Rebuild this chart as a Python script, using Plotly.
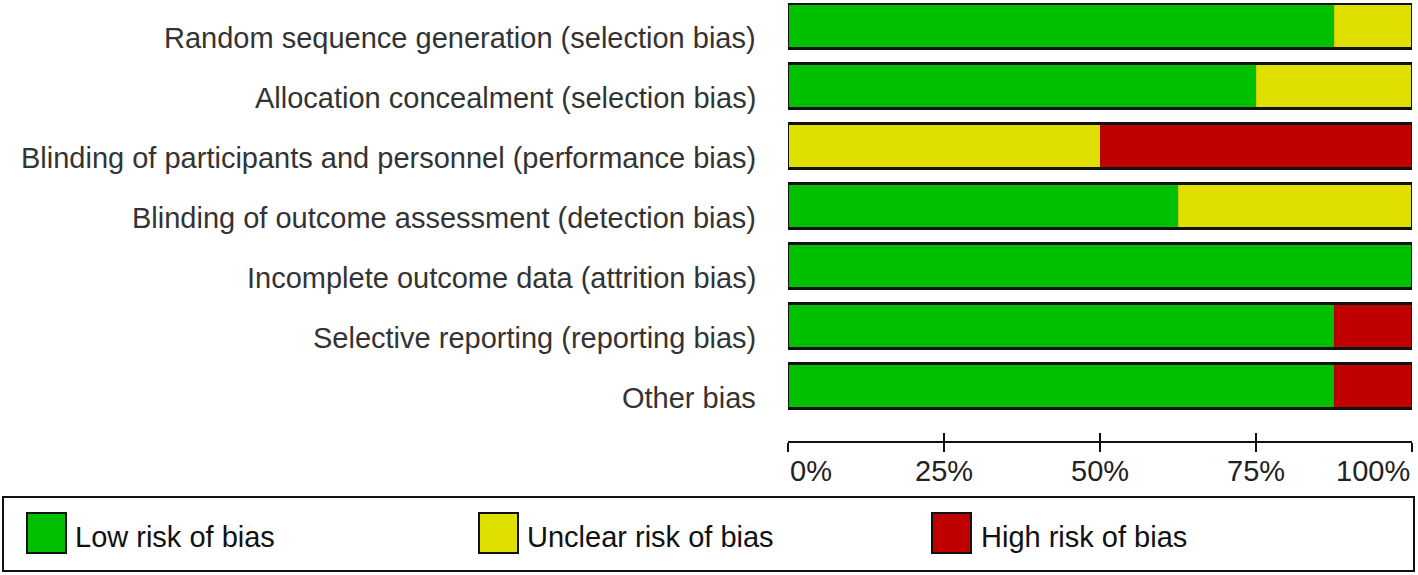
import plotly.graph_objects as go

categories = [
    "Random sequence generation (selection bias)",
    "Allocation concealment (selection bias)",
    "Blinding of participants and personnel (performance bias)",
    "Blinding of outcome assessment (detection bias)",
    "Incomplete outcome data (attrition bias)",
    "Selective reporting (reporting bias)",
    "Other bias",
]
low_risk = [87.5, 75.0, 0.0, 62.5, 100.0, 87.5, 87.5]
unclear_risk = [12.5, 25.0, 50.0, 37.5, 0.0, 0.0, 0.0]
high_risk = [0.0, 0.0, 50.0, 0.0, 0.0, 12.5, 12.5]
tick_values = [0, 25, 50, 75, 100]
tick_labels = ["0%", "25%", "50%", "75%", "100%"]
series_names = ["Low risk of bias", "Unclear risk of bias", "High risk of bias"]

colors = ["#00C000", "#E0E000", "#C00000"]
edge_colors = ["#00A800", "#CCCC00", "#A80000"]

FIG_W, FIG_H = 1418, 575
L, R, T, B = 788, 6, 3, 134
PW = FIG_W - L - R
PH = FIG_H - T - B
FONT = "Liberation Sans, Arial, sans-serif"
FS = 29


def px(x):
    return (x - L) / PW


def py(y):
    return 1 - (y - T) / PH


fig = go.Figure()
for vals, name, c, ec in zip([low_risk, unclear_risk, high_risk], series_names, colors, edge_colors):
    fig.add_trace(go.Bar(
        y=categories, x=[v if v > 0 else None for v in vals], orientation="h",
        name=name, width=0.75, showlegend=False,
        marker=dict(color=c, line=dict(color=ec, width=1)),
        hoverinfo="x+name",
    ))

# outline of each full bar (total of the three series), on an overlaid x axis
totals = [a + b + c for a, b, c in zip(low_risk, unclear_risk, high_risk)]
fig.add_trace(go.Bar(
    y=categories, x=totals, orientation="h", xaxis="x2", width=0.75,
    showlegend=False, hoverinfo="skip",
    marker=dict(color="rgba(0,0,0,0)", line=dict(color="#111111", width=2.5)),
))

annotations = []
# category labels
for cat in categories:
    annotations.append(dict(
        x=0, y=cat, xref="x", yref="y", xanchor="right", yanchor="middle",
        xshift=-30, yshift=-12, showarrow=False, text=cat,
        font=dict(family=FONT, size=FS, color="#333333"),
    ))
# tick labels
for i, (tv, tl) in enumerate(zip(tick_values, tick_labels)):
    anchor = "left" if i == 0 else ("right" if i == len(tick_values) - 1 else "center")
    annotations.append(dict(
        x=tv, y=0, xref="x", yref="paper", xanchor=anchor, yanchor="middle",
        yshift=-30, showarrow=False, text=tl,
        font=dict(family=FONT, size=FS, color="#222222"),
    ))

shapes = []
# legend box
shapes.append(dict(type="rect", xref="paper", yref="paper",
                   x0=px(3), x1=px(1414), y0=py(571), y1=py(497),
                   line=dict(color="#111111", width=2), fillcolor="rgba(0,0,0,0)"))
legend_sq_x = [27, 479, 932]
legend_text_x = [73, 525, 979]
for sx, tx, name, c in zip(legend_sq_x, legend_text_x, series_names, colors):
    shapes.append(dict(type="rect", xref="paper", yref="paper",
                       x0=px(sx), x1=px(sx + 39), y0=py(553), y1=py(513),
                       line=dict(color="#111111", width=2), fillcolor=c))
    annotations.append(dict(
        x=px(tx), y=py(537), xref="paper", yref="paper", xanchor="left", yanchor="middle",
        showarrow=False, text=name, font=dict(family=FONT, size=FS, color="#111111"),
    ))

fig.update_layout(
    width=FIG_W, height=FIG_H,
    margin=dict(l=L, r=R, t=T, b=B, pad=0),
    barmode="stack",
    plot_bgcolor="white", paper_bgcolor="white",
    showlegend=False,
    xaxis=dict(range=[0, 100], tickvals=tick_values, showticklabels=False,
               ticks="outside", ticklen=9, tickwidth=2, tickcolor="#111111",
               showline=True, linecolor="#111111", linewidth=2,
               showgrid=False, zeroline=False, fixedrange=True),
    xaxis2=dict(range=[0, 100], overlaying="x", side="bottom", anchor="y",
                tickvals=tick_values, showticklabels=False,
                ticks="inside", ticklen=8, tickwidth=2, tickcolor="#111111",
                showline=False, showgrid=False, zeroline=False, fixedrange=True),
    yaxis=dict(categoryorder="array", categoryarray=categories,
               range=[6 + 55 / 60, -23 / 60], showticklabels=False,
               showgrid=False, zeroline=False, showline=False, ticks="", fixedrange=True),
    annotations=annotations,
    shapes=shapes,
    font=dict(family=FONT),
)

fig.write_html(
    "out.html",
    config={"displayModeBar": False},
    post_script="document.body.style.margin='0';document.body.style.overflow='hidden';",
)
